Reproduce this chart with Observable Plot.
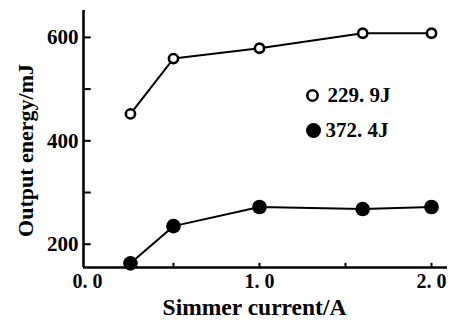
<!DOCTYPE html>
<html>
<head>
<meta charset="utf-8">
<script src="https://cdn.jsdelivr.net/npm/d3@7"></script>
<script src="https://cdn.jsdelivr.net/npm/@observablehq/plot@0.6"></script>
<style>
  html, body { margin: 0; padding: 0; background: #fff; }
  svg { display: block; }
</style>
</head>
<body>
<div id="chart"></div>
<script>
const current = [0.25, 0.5, 1.0, 1.6, 2.0];
const energyLow = [452, 559, 579, 608, 608];   // 229.9J (open circles)
const energyHigh = [163, 235, 272, 268, 272];  // 372.4J (filled circles)
const seriesNames = ["229. 9J", "372. 4J"];
const xTicks = [0, 1, 2];
const xTickLabels = ["0. 0", "1. 0", "2. 0"];
const xMinorTicks = [0.5, 1.0, 1.5, 2.0];
const yTicks = [200, 400, 600];
const yMinorTicks = [200, 300, 400, 500, 600];

const low = current.map((x, i) => ({x, y: energyLow[i]}));
const high = current.map((x, i) => ({x, y: energyHigh[i]}));

const serif = "'Liberation Serif', 'DejaVu Serif', serif";
const yMin = 155, yMax = 652, xMin = -0.023, xMax = 2.093;

const chart = Plot.plot({
  width: 465,
  height: 322,
  marginLeft: 83,
  marginRight: 18,
  marginTop: 10,
  marginBottom: 55,
  style: {fontFamily: serif, color: "#000", background: "#fff"},
  x: {domain: [xMin, xMax]},
  y: {domain: [yMin, yMax]},
  marks: [
    // inward ticks
    Plot.ruleX(xMinorTicks, {x: d => d, y1: yMin, y2: yMin + 8, stroke: "#000", strokeWidth: 2}),
    Plot.ruleY(yMinorTicks, {y: d => d, x1: xMin, x2: xMin + 0.045, stroke: "#000", strokeWidth: 2}),
    // axis lines
    Plot.ruleY([yMin], {x1: xMin, x2: xMax, stroke: "#000", strokeWidth: 2.6}),
    Plot.ruleX([xMin], {y1: yMin, y2: yMax, stroke: "#000", strokeWidth: 2.6}),
    // tick labels
    Plot.axisX(xTicks, {tickSize: 0, tickPadding: 6, tickFormat: (d, i) => xTickLabels[i], fontSize: 20, fontWeight: "bold", label: null}),
    Plot.axisY(yTicks, {tickSize: 0, tickPadding: 5, fontSize: 21, fontWeight: "bold", label: null}),
    // axis titles
    Plot.text(["Simmer current/A"], {frameAnchor: "bottom", lineAnchor: "middle", textAnchor: "middle", dy: 40, dx: -11, fontSize: 23.5, fontWeight: "bold", fill: "#000"}),
    Plot.text(["Output energy/mJ"], {frameAnchor: "left", lineAnchor: "middle", textAnchor: "middle", dx: -58, dy: 11.5, rotate: -90, fontSize: 22, fontWeight: "bold", fill: "#000"}),
    // lines
    Plot.line(low, {x: "x", y: "y", stroke: "#000", strokeWidth: 2}),
    Plot.line(high, {x: "x", y: "y", stroke: "#000", strokeWidth: 2}),
    Plot.dot(low, {x: "x", y: "y", r: 4.6, fill: "#fff", stroke: "#000", strokeWidth: 2.6}),
    Plot.dot(high, {x: "x", y: "y", r: 7.3, fill: "#000", stroke: "none"}),
    // legend
    Plot.dot([0], {frameAnchor: "top-left", dx: 229, dy: 85, r: 5.2, fill: "#fff", stroke: "#000", strokeWidth: 2.6}),
    Plot.dot([0], {frameAnchor: "top-left", dx: 230, dy: 120, r: 7.5, fill: "#000"}),
    Plot.text([seriesNames[0]], {frameAnchor: "top-left", lineAnchor: "middle", dx: 244, dy: 85, textAnchor: "start", fontSize: 21, fontWeight: "bold", fill: "#000"}),
    Plot.text([seriesNames[1]], {frameAnchor: "top-left", lineAnchor: "middle", dx: 242, dy: 120, textAnchor: "start", fontSize: 21, fontWeight: "bold", fill: "#000"})
  ]
});
document.getElementById("chart").appendChild(chart);
</script>
</body>
</html>
